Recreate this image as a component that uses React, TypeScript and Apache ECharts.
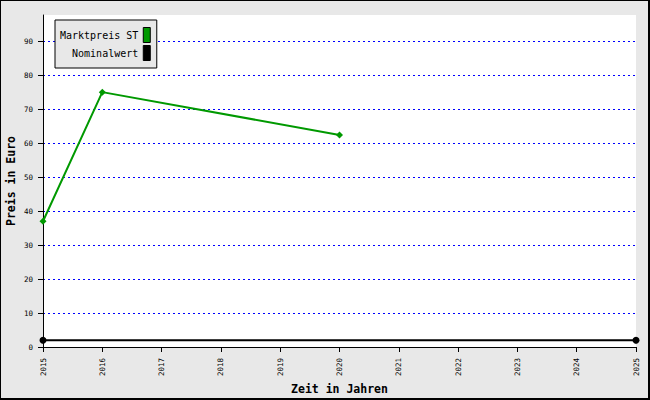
import React, { useEffect, useRef } from "react";
import * as echarts from "echarts";

const years: number[] = [2015, 2016, 2020];
const marktpreis: number[] = [37, 75, 62.4];
const nominalYears: number[] = [2015, 2025];
const nominalwert: number[] = [2, 2];
const yTicks: number[] = [0, 10, 20, 30, 40, 50, 60, 70, 80, 90];
const xTicks: number[] = [2015, 2016, 2017, 2018, 2019, 2020, 2021, 2022, 2023, 2024, 2025];

const FONT = "DejaVu Sans Mono";

export default function App() {
  const ref = useRef<HTMLDivElement>(null);
  useEffect(() => {
    if (!ref.current) return;
    const chart = echarts.init(ref.current, null, { renderer: "svg" });
    chart.setOption({
      animation: false,
      backgroundColor: "#e8e8e8",
      textStyle: { fontFamily: FONT },
      graphic: [
        { type: "rect", shape: { x: 0, y: 0, width: 650, height: 1 }, style: { fill: "#000" }, z: 100 },
        { type: "rect", shape: { x: 0, y: 0, width: 1, height: 400 }, style: { fill: "#000" }, z: 100 },
        { type: "rect", shape: { x: 648, y: 0, width: 2, height: 400 }, style: { fill: "#000" }, z: 100 },
        { type: "rect", shape: { x: 0, y: 398, width: 650, height: 2 }, style: { fill: "#000" }, z: 100 },
      ],
      grid: {
        left: 43,
        right: 14,
        top: 15,
        bottom: 53,
        show: true,
        backgroundColor: "#ffffff",
        borderWidth: 0,
        containLabel: false,
        outerBoundsMode: "none",
      },
      legend: {
        orient: "vertical",
        left: 55,
        top: 20,
        align: "right",
        icon: "rect",
        itemWidth: 7,
        itemHeight: 15,
        itemGap: 2,
        padding: [7, 6, 7, 5],
        backgroundColor: "#e8e8e8",
        borderColor: "#000",
        borderWidth: 1,
        itemStyle: { borderColor: "#000", borderWidth: 1 },
        textStyle: { fontFamily: FONT, fontSize: 10, color: "#000" },
        data: ["Marktpreis ST", "Nominalwert"],
      },
      xAxis: {
        type: "value",
        min: 2015,
        max: 2025,
        interval: 1,
        name: "Zeit in Jahren",
        nameLocation: "middle",
        nameGap: 36,
        nameMoveOverlap: false,
        nameTextStyle: { fontFamily: FONT, fontSize: 11.5, fontWeight: "bold", color: "#000" },
        axisLine: { show: true, onZero: false, lineStyle: { color: "#000", width: 1 } },
        axisTick: { show: true, length: 5, lineStyle: { color: "#000" } },
        axisLabel: {
          rotate: 90,
          margin: 11,
          fontFamily: FONT,
          fontSize: 7.5,
          color: "#000",
          formatter: (v: number) => (xTicks.indexOf(v) >= 0 ? String(v) : ""),
        },
        splitLine: { show: false },
      },
      yAxis: {
        type: "value",
        min: 0,
        max: 97.7,
        interval: 10,
        name: "Preis in Euro",
        nameLocation: "middle",
        nameGap: 26,
        nameMoveOverlap: false,
        nameTextStyle: { fontFamily: FONT, fontSize: 11.5, fontWeight: "bold", color: "#000" },
        axisLine: { show: true, lineStyle: { color: "#000", width: 1 } },
        axisTick: { show: true, length: 5, lineStyle: { color: "#000" }, customValues: yTicks },
        axisLabel: {
          margin: 10,
          fontFamily: FONT,
          fontSize: 7.5,
          color: "#000",
          customValues: yTicks,
        },
        splitLine: {
          show: true,
          lineStyle: { color: "#0000ff", width: 1, type: [2, 3] },
        },
      },
      series: [
        {
          name: "Marktpreis ST",
          type: "line",
          data: years.map((y, i) => [y, marktpreis[i]]),
          symbol: "diamond",
          symbolSize: 7,
          lineStyle: { color: "#009900", width: 2 },
          itemStyle: { color: "#009900" },
          z: 3,
        },
        {
          name: "Nominalwert",
          type: "line",
          data: nominalYears.map((y, i) => [y, nominalwert[i]]),
          symbol: "circle",
          symbolSize: 7,
          lineStyle: { color: "#000", width: 2 },
          itemStyle: { color: "#000" },
          clip: false,
          z: 2,
        },
      ],
    });
    return () => chart.dispose();
  }, []);
  return (
    <div
      ref={ref}
      style={{ position: "absolute", left: 0, top: 0, width: 650, height: 400 }}
    />
  );
}
